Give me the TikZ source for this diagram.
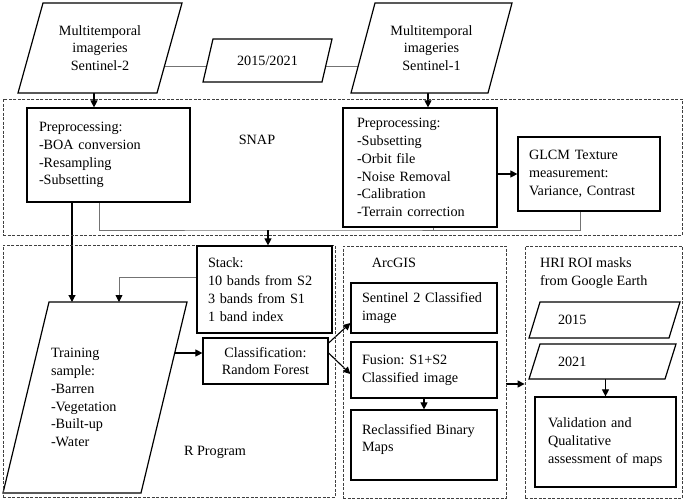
\documentclass[tikz,border=0pt]{standalone}
\usepackage{fontspec}
\setmainfont{Liberation Serif}
\usetikzlibrary{arrows.meta,backgrounds}
\newcommand\paraoutline[2]{\draw[paraline] ([xshift=#2]#1.north west) -- (#1.north east) -- ([xshift=-#2]#1.south east) -- (#1.south west) -- cycle;}
\begin{document}
\begin{tikzpicture}[x=1pt,y=-1pt,
  font=\fontsize{14.2}{17.8}\selectfont\frenchspacing,
  box/.style={draw,line width=1.2pt,fill=white,rectangle,inner sep=0pt,align=left},
  para/.style={rectangle,inner sep=0pt,outer sep=0pt,align=center},
  paraline/.style={draw,line width=1.2pt,fill=white},
  region/.style={draw=black!75,dash pattern=on 3pt off 1.5pt,line width=0.8pt,rectangle,inner sep=0pt},
  arr/.style={line width=1.1pt,-{Triangle[length=7pt,width=7pt]}},
  gline/.style={draw=black!55,line width=0.9pt},
  garr/.style={gline,-{Triangle[length=7pt,width=7pt,color=black]}},
  lbl/.style={inner sep=0pt}
]
\useasboundingbox (0,0) rectangle (685,501);

% dashed regions
\node[region,minimum width=679pt,minimum height=136pt] (snap) at (342.5,167) {};
\node[region,minimum width=332pt,minimum height=252pt] (rreg) at (169,371) {};
\node[region,minimum width=163pt,minimum height=252pt] (arcreg) at (424.5,372) {};
\node[region,minimum width=157pt,minimum height=252pt] (hri) at (603.5,372) {};

% top inputs
\node[para,minimum width=164pt,minimum height=90pt] (s2) at (100,48) {Multitemporal\\imageries\\Sentinel-2};
\node[para,minimum width=129pt,minimum height=43pt] (yr) at (267.5,60.5) {2015/2021};
\node[para,minimum width=161pt,minimum height=90pt] (s1) at (431.5,48) {Multitemporal\\imageries\\Sentinel-1};

% SNAP
\node[box,minimum width=163pt,minimum height=94pt,text width=139pt] (pre2) at (108.5,155) {Preprocessing:\\-BOA conversion\\-Resampling\\-Subsetting};
\node[lbl] (snaplbl) at (257,140) {SNAP};
\node[box,minimum width=154pt,minimum height=119pt,text width=126pt] (pre1) at (420,167.5) {Preprocessing:\\-Subsetting\\-Orbit file\\-Noise Removal\\-Calibration\\-Terrain correction};
\node[box,minimum width=142pt,minimum height=74pt,text width=120pt] (glcm) at (589,174) {GLCM Texture\\measurement:\\\mbox{Variance, Contrast}};

% R program
\node[box,minimum width=135pt,minimum height=87pt,text width=113pt] (stack) at (264.5,289.5) {Stack:\\10 bands from S2\\3 bands from S1\\1 band index};
\node[para,minimum width=184pt,minimum height=191pt,text width=88pt,align=left] (train) at (95,397.5) {Training\\sample:\\-Barren\\-Vegetation\\-Built-up\\-Water};
\node[box,minimum width=125pt,minimum height=46pt,align=center] (cls) at (265.5,361) {Classification:\\Random Forest};
\node[lbl] (rlbl) at (215,452) {R Program};

% ArcGIS
\node[lbl] (arclbl) at (394,263) {ArcGIS};
\node[box,minimum width=146pt,minimum height=50pt,text width=124pt] (s2cls) at (424,308) {\mbox{Sentinel 2 Classified}\\image};
\node[box,minimum width=146pt,minimum height=56pt,text width=124pt] (fus) at (424,370) {Fusion: S1+S2\\Classified image};
\node[box,minimum width=146pt,minimum height=70pt,text width=124pt] (recl) at (424,445) {Reclassified Binary\\Maps\rule[-14pt]{0pt}{1pt}};

% HRI
\node[lbl,anchor=west,align=left] (hrilbl) at (540,273) {HRI ROI masks\\from Google Earth};
\node[para,minimum width=151pt,minimum height=36pt,text width=93pt,align=left] (y15) at (604.5,320) {2015};
\node[para,minimum width=147pt,minimum height=35pt,text width=89pt,align=left] (y21) at (602.5,361.5) {2021};
\node[box,minimum width=141pt,minimum height=90pt,text width=115pt] (val) at (605.5,442) {Validation and\\Qualitative\\\mbox{assessment of maps}};

\coordinate (merge) at (268,230);

\begin{scope}[on background layer]
\draw[gline] ([yshift=-18pt]s2.center) -- ([yshift=-5.5pt]yr.center);
\draw[gline] ([yshift=-5.5pt]yr.center) -- ([yshift=-18pt]s1.center);
\draw[arr] ([xshift=-6pt]s2.south) -- ([xshift=-6pt]s2.south |- pre2.north);
\draw[arr] ([xshift=-3.5pt]s1.south) -- ([xshift=-3.5pt]s1.south |- pre1.north);
\draw[arr] (glcm.west -| pre1.east) -- (glcm.west);
\draw[gline] ([xshift=-9.5pt]pre2.south) |- (merge) -| ([xshift=-9pt]glcm.south);
\draw[gline] ([xshift=13pt]pre1.south) -- ([xshift=13pt]pre1.south |- merge);
\draw[arr] (merge) -- (merge |- stack.north);
\draw[arr] ([xshift=-36.5pt]pre2.south) -- ([xshift=-36.5pt]pre2.south |- train.north);
\draw[garr] ([yshift=12.5pt]stack.west) -| ([xshift=24pt]train.north);
\draw[arr] ([yshift=8pt]cls.west -| train.center) -- ([yshift=8pt]cls.west);
\draw[arr] ([yshift=18pt]cls.east) -- ([yshift=-15pt]s2cls.west);
\draw[arr] ([yshift=8pt]cls.east) -- ([yshift=-4pt]fus.west);
\draw[arr] (fus.south) -- (recl.north);
\draw[arr] ([yshift=-12pt]arcreg.east) -- ([yshift=-12pt]hri.west);
\draw[arr] (val.north |- y21.south) -- (val.north);
% parallelogram outlines (over the connectors, under the text)
\paraoutline{s2}{25pt}
\paraoutline{yr}{10pt}
\paraoutline{s1}{24pt}
\paraoutline{train}{46pt}
\paraoutline{y15}{11pt}
\paraoutline{y21}{11pt}
\end{scope}
\end{tikzpicture}
\end{document}
